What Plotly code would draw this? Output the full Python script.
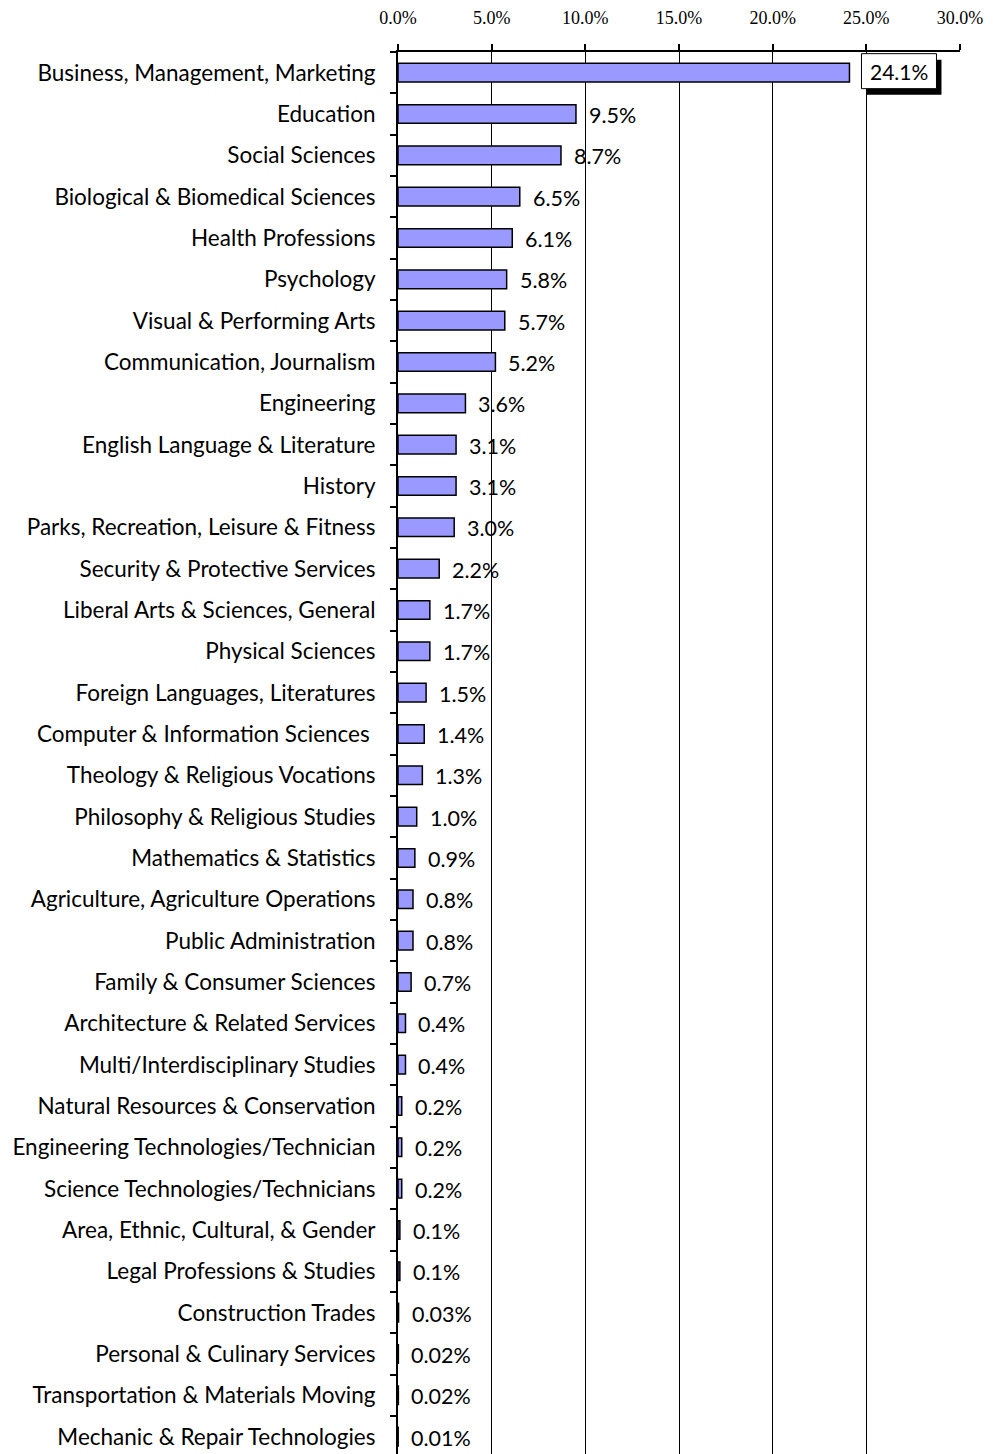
import plotly.graph_objects as go

categories = [
    "Business, Management, Marketing", "Education", "Social Sciences",
    "Biological & Biomedical Sciences", "Health Professions", "Psychology",
    "Visual & Performing Arts", "Communication, Journalism", "Engineering",
    "English Language & Literature", "History", "Parks, Recreation, Leisure & Fitness",
    "Security & Protective Services", "Liberal Arts & Sciences, General",
    "Physical Sciences", "Foreign Languages, Literatures",
    "Computer & Information Sciences ", "Theology & Religious Vocations",
    "Philosophy & Religious Studies", "Mathematics & Statistics",
    "Agriculture, Agriculture Operations", "Public Administration",
    "Family & Consumer Sciences", "Architecture & Related Services",
    "Multi/Interdisciplinary Studies", "Natural Resources & Conservation",
    "Engineering Technologies/Technician", "Science Technologies/Technicians",
    "Area, Ethnic, Cultural, & Gender", "Legal Professions & Studies",
    "Construction Trades", "Personal & Culinary Services",
    "Transportation & Materials Moving", "Mechanic & Repair Technologies",
]
values = [24.1, 9.5, 8.7, 6.5, 6.1, 5.8, 5.7, 5.2, 3.6, 3.1, 3.1, 3.0, 2.2, 1.7, 1.7,
          1.5, 1.4, 1.3, 1.0, 0.9, 0.8, 0.8, 0.7, 0.4, 0.4, 0.2, 0.2, 0.2, 0.1, 0.1,
          0.03, 0.02, 0.02, 0.01]
labels = [f"{v:.1f}%" if v >= 0.1 else f"{v:.2f}%" for v in values]
x_ticks = [0, 5, 10, 15, 20, 25, 30]
x_tick_text = [f"{t:.1f}%" for t in x_ticks]

SANS = "Lato, Carlito, Calibri, sans-serif"
SERIF = "Liberation Serif, Times New Roman, serif"

fig = go.Figure()
fig.add_trace(go.Bar(
    x=values, y=categories, orientation="h",
    marker=dict(color="#9999FF", line=dict(color="black", width=1.5)),
    width=0.45, hoverinfo="x+y",
))

annotations = []
shapes = []
for i, (c, v, lab) in enumerate(zip(categories, values, labels)):
    if i == 0:
        # callout box with drop shadow, anchored to the bar end
        shapes.append(dict(type="rect", layer="above", xref="x", yref="y",
                           xsizemode="pixel", ysizemode="pixel", xanchor=v, yanchor=c,
                           x0=17, x1=92, y0=-22, y1=13,
                           fillcolor="black", line=dict(width=0)))
        shapes.append(dict(type="rect", layer="above", xref="x", yref="y",
                           xsizemode="pixel", ysizemode="pixel", xanchor=v, yanchor=c,
                           x0=12, x1=87, y0=-16, y1=19,
                           fillcolor="white", line=dict(color="black", width=1)))
        annotations.append(dict(x=v, y=c, xref="x", yref="y", text=lab, showarrow=False,
                                xanchor="center", yanchor="middle", xshift=49.5, yshift=1.5,
                                font=dict(family=SANS, size=21, color="black")))
    else:
        annotations.append(dict(x=v, y=c, xref="x", yref="y", text=lab, showarrow=False,
                                xanchor="left", yanchor="middle", xshift=11, yshift=-1,
                                font=dict(family=SANS, size=21.5, color="black")))

fig.update_layout(
    width=991, height=1446,
    margin=dict(l=390, r=39, t=44, b=0, pad=0, autoexpand=False),
    paper_bgcolor="white", plot_bgcolor="white",
    showlegend=False,
    annotations=annotations,
    shapes=shapes,
    xaxis=dict(
        side="top", range=[0, 30], tickvals=x_ticks, ticktext=x_tick_text,
        showgrid=True, gridcolor="black", gridwidth=1,
        showline=True, linecolor="black", linewidth=1.5,
        ticks="outside", ticklen=6, tickcolor="black", tickwidth=1.5,
        tickfont=dict(family=SERIF, size=18, color="black"),
        ticklabelstandoff=13, zeroline=False, fixedrange=True, automargin=False,
    ),
    yaxis=dict(
        type="category", categoryorder="array", categoryarray=categories,
        range=[33.42, -0.5],
        showgrid=False, showline=True, linecolor="black", linewidth=2,
        ticks="outside", ticklen=6, tickcolor="black", tickwidth=1.5,
        tickson="boundaries",
        tickfont=dict(family=SANS, size=22.5, color="black"),
        ticklabelstandoff=16, zeroline=False, fixedrange=True, automargin=False,
    ),
)

fig.write_html("out.html")
